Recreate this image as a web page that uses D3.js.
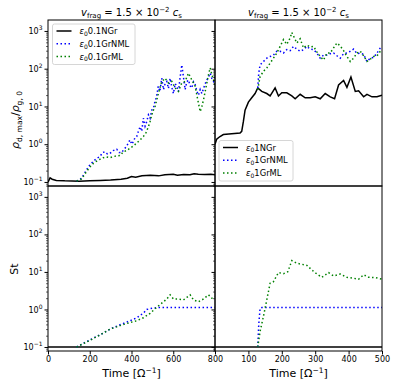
<!DOCTYPE html>
<html>
<head>
<meta charset="utf-8">
<script src="https://cdn.jsdelivr.net/npm/d3@7"></script>
<style>
  body { margin: 0; background: #fff; }
  svg { font-family: "DejaVu Sans", sans-serif; }
</style>
</head>
<body>
<svg width="396" height="387"></svg>
<script>
// time / value pairs
var topLeftNGr = [[0,0.098],[10,0.128],[20,0.118],[40,0.11],[80,0.107],[150,0.105],[200,0.107],[250,0.109],[300,0.112],[350,0.118],[380,0.125],[400,0.14],[420,0.134],[450,0.145],[490,0.15],[530,0.145],[560,0.155],[600,0.16],[620,0.15],[650,0.158],[680,0.155],[700,0.165],[720,0.16],[750,0.158],[780,0.16],[800,0.155]]
var topLeftNML = [[137,0.105],[150,0.115],[161,0.125],[175,0.17],[185,0.21],[200,0.28],[217,0.35],[233,0.42],[249,0.47],[261,0.6],[273,0.63],[285,0.55],[297,0.57],[313,0.68],[329,0.74],[341,0.6],[353,0.6],[365,0.75],[377,0.87],[385,1.1],[393,1.3],[401,1.0],[409,1.17],[417,1.5],[425,1.6],[433,2.2],[441,2.9],[449,2.2],[457,4.9],[465,3.0],[473,4.0],[481,6],[489,4.9],[497,8],[505,9],[513,14],[520,18],[528,34],[536,25],[545,56],[553,28],[561,40],[569,46],[577,30],[585,56],[593,32],[601,22],[609,40],[617,34],[625,25],[633,60],[641,126],[649,60],[657,28],[665,45],[673,50],[681,35],[689,31],[697,45],[705,38],[713,25],[721,20],[729,28],[737,22],[745,30],[753,40],[761,50],[769,60],[777,76],[785,55],[793,46],[800,62]]
var topLeftML = [[137,0.105],[161,0.12],[185,0.19],[201,0.25],[217,0.31],[241,0.38],[265,0.44],[281,0.46],[297,0.44],[313,0.47],[329,0.49],[345,0.5],[361,0.63],[377,0.68],[393,0.78],[409,0.9],[425,1.07],[441,1.3],[457,1.6],[469,2.0],[481,2.9],[489,4],[497,6],[505,8],[513,10],[521,15],[529,22],[537,32],[545,46],[553,50],[561,56],[569,48],[577,42],[585,45],[593,46],[601,38],[609,31],[617,28],[625,25],[633,33],[641,42],[649,44],[657,46],[665,60],[673,76],[681,62],[689,50],[697,42],[705,34],[713,20],[721,12],[729,7.3],[737,10],[745,15],[753,25],[761,42],[769,70],[777,105],[785,70],[793,50],[800,35]]

var topRightNGr = [[0,1.0],[5,1.35],[15,1.6],[25,1.8],[50,1.9],[75,1.97],[80,2.2],[85,4],[90,8],[100,13],[110,17],[120,22],[128,31],[140,25],[155,22],[165,19],[180,31],[190,19],[200,23],[215,23],[230,19],[240,16],[255,21],[270,17],[285,17],[300,18],[315,16],[330,22],[345,18],[358,16],[370,37],[385,49],[395,32],[407,60],[420,25],[430,26],[445,18],[455,21],[470,18],[485,18],[500,20]]
var topRightNML = [[128,31],[131,76],[135,126],[145,155],[155,190],[165,210],[175,230],[185,290],[195,290],[205,260],[215,320],[225,300],[235,390],[245,330],[255,290],[265,320],[275,390],[285,330],[295,320],[305,260],[315,190],[325,230],[335,230],[345,250],[355,260],[365,220],[375,190],[385,250],[395,260],[405,290],[415,330],[425,250],[435,260],[445,240],[455,155],[465,190],[475,200],[485,260],[495,355],[500,390]]
var topRightML = [[128,28],[135,62],[145,85],[155,105],[165,140],[175,190],[185,260],[195,390],[205,590],[215,440],[225,650],[230,910],[238,650],[245,480],[255,620],[265,355],[275,420],[285,380],[295,390],[305,280],[315,210],[325,170],[335,260],[345,260],[355,355],[365,480],[375,400],[385,300],[395,210],[405,155],[415,190],[425,260],[435,290],[445,220],[455,155],[465,180],[475,210],[485,220],[495,290],[500,320]]

var botLeftNGr = [[0,0.1],[800,0.1]]
var botLeftNML = [[137,0.1],[201,0.155],[249,0.21],[297,0.3],[345,0.39],[393,0.5],[425,0.6],[457,0.8],[473,1.0],[489,1.05],[521,1.12],[800,1.12]]
var botLeftML = [[137,0.1],[201,0.15],[249,0.21],[297,0.3],[345,0.37],[393,0.45],[425,0.5],[457,0.6],[489,0.79],[521,1.14],[553,1.6],[569,1.9],[585,2.45],[601,1.9],[625,1.9],[649,1.8],[665,2.1],[681,2.45],[697,1.8],[721,1.6],[745,1.9],[769,2.45],[785,2.0],[800,2.2]]

var botRightNGr = [[0,0.1],[500,0.1]]
var botRightNML = [[128,0.1],[131,0.4],[135,1.07],[140,1.12],[500,1.12]]
var botRightML = [[128,0.1],[135,0.26],[145,0.65],[155,1.8],[165,5],[175,5.5],[190,9.6],[205,9],[218,10.1],[230,20],[245,17],[260,16],[275,15],[290,11.3],[305,8.8],[320,7.2],[340,9.6],[355,7.8],[375,8.8],[395,7.2],[415,6.8],[430,6.4],[445,8.4],[460,7.2],[480,7.1],[500,6.4]]

var leftTicks = [0, 200, 400, 600, 800]
var rightTicks = [100, 200, 300, 400, 500]
var yMajor = [0.1, 1, 10, 100, 1000]
var leftLegend = ["0.1NGr", "0.1GrNML", "0.1GrML"]
var rightLegend = ["1NGr", "1GrNML", "1GrML"]

var svg = d3.select("svg")
var cols = [{x0: 48, x1: 215, max: 800, ticks: leftTicks}, {x0: 215, x1: 382, max: 500, ticks: rightTicks}]
var rows = [{y0: 20, y1: 186}, {y0: 186, y1: 351}]

var styles = [
  {color: "black", dash: null},
  {color: "blue", dash: "1.5,2.5"},
  {color: "green", dash: "1.5,2.5"}
]

var panels = [
  {c: 0, r: 0, series: [topLeftNGr, topLeftNML, topLeftML]},
  {c: 1, r: 0, series: [topRightNGr, topRightNML, topRightML]},
  {c: 0, r: 1, series: [botLeftNGr, botLeftNML, botLeftML]},
  {c: 1, r: 1, series: [botRightNGr, botRightNML, botRightML]}
]

var yDomain = [Math.pow(10, -1.107), Math.pow(10, 3.29)]

var minorTicks = []
for (var k = -2; k <= 3; k++) {
  for (var m = 2; m <= 9; m++) {
    var v = m * Math.pow(10, k)
    if (v > yDomain[0] && v < yDomain[1]) minorTicks.push(v)
  }
}

var supLabel = function(sel, exps) {
  sel.selectAll(".tick text").each(function(d) {
    var t = d3.select(this).text("10")
    t.append("tspan").attr("dy", -4).attr("font-size", "6px").text(exps(d))
  })
}

panels.forEach(function(p, i) {
  var col = cols[p.c], row = rows[p.r]
  var x = d3.scaleLinear().domain([0, col.max]).range([col.x0, col.x1])
  var y = d3.scaleLog().domain(yDomain).range([row.y1, row.y0])

  svg.append("clipPath").attr("id", "clip" + i)
    .append("rect").attr("x", col.x0).attr("y", row.y0)
    .attr("width", col.x1 - col.x0).attr("height", row.y1 - row.y0)

  var g = svg.append("g").attr("clip-path", "url(#clip" + i + ")")
  var line = d3.line().x(function(d) { return x(d[0]) }).y(function(d) { return y(d[1]) })

  p.series.forEach(function(s, j) {
    g.append("path")
      .attr("d", line(s))
      .attr("fill", "none")
      .attr("stroke", styles[j].color)
      .attr("stroke-width", 1.5)
      .attr("stroke-dasharray", styles[j].dash)
  })

  // y axis
  var ya = svg.append("g").attr("transform", "translate(" + col.x0 + ",0)")
    .call(d3.axisLeft(y).tickValues(yMajor).tickSize(3.5).tickPadding(2))
  ya.select(".domain").remove()
  ya.selectAll("text").attr("font-size", "8px").attr("font-family", "DejaVu Sans")
  if (p.c == 0) {
    supLabel(ya, function(d) { return String(Math.round(Math.log10(d))).replace("-", "\u2212") })
  } else {
    ya.selectAll("text").remove()
  }
  var ym = svg.append("g").attr("transform", "translate(" + col.x0 + ",0)")
    .call(d3.axisLeft(y).tickValues(minorTicks).tickSize(2).tickFormat(""))
  ym.select(".domain").remove()
  ym.selectAll("line").attr("stroke-width", 0.6)

  // x axis only on bottom row
  if (p.r == 1) {
    var xa = svg.append("g").attr("transform", "translate(0," + row.y1 + ")")
      .call(d3.axisBottom(x).tickValues(col.ticks).tickSize(3.5).tickPadding(2))
    xa.select(".domain").remove()
    xa.selectAll("text").attr("font-size", "8px").attr("font-family", "DejaVu Sans")

    var xl = svg.append("text")
      .attr("x", (col.x0 + col.x1) / 2).attr("y", 377)
      .attr("text-anchor", "middle").attr("font-size", "11px")
    xl.append("tspan").text("Time [\u03A9")
    xl.append("tspan").attr("dy", -4.5).attr("font-size", "7.5px").text("\u22121")
    xl.append("tspan").attr("dy", 4.5).text("]")
  }

  // frame
  svg.append("rect").attr("x", col.x0).attr("y", row.y0)
    .attr("width", col.x1 - col.x0).attr("height", row.y1 - row.y0)
    .attr("fill", "none").attr("stroke", "black").attr("stroke-width", 1)
})

// titles
cols.forEach(function(col) {
  var t = svg.append("text").attr("x", (col.x0 + col.x1) / 2).attr("y", 16)
    .attr("text-anchor", "middle").attr("font-size", "10px")
  t.append("tspan").attr("font-style", "italic").text("v")
  t.append("tspan").attr("dy", 2).attr("font-size", "7px").text("frag")
  t.append("tspan").attr("dy", -2).text(" = 1.5 \u00D7 10")
  t.append("tspan").attr("dy", -4).attr("font-size", "7px").text("\u22122")
  t.append("tspan").attr("dy", 4).text(" ")
  t.append("tspan").attr("font-style", "italic").text("c")
  t.append("tspan").attr("dy", 2).attr("font-size", "7px").text("s")
})

// y labels
var yl = svg.append("text").attr("transform", "translate(19,120) rotate(-90)")
  .attr("text-anchor", "middle").attr("font-size", "11px")
yl.append("tspan").attr("font-style", "italic").text("\u03C1")
yl.append("tspan").attr("dy", 2.5).attr("font-size", "7.5px").text("d, max")
yl.append("tspan").attr("dy", -2.5).text("/")
yl.append("tspan").attr("font-style", "italic").text("\u03C1")
yl.append("tspan").attr("dy", 2.5).attr("font-size", "7.5px").text("g, 0")

svg.append("text").attr("transform", "translate(18,269) rotate(-90)")
  .attr("text-anchor", "middle").attr("font-size", "11px").text("St")

// legends
var drawLegend = function(bx, by, bw, labels) {
  var lg = svg.append("g").attr("transform", "translate(" + bx + "," + by + ")")
  lg.append("rect").attr("width", bw).attr("height", 40.5).attr("rx", 2)
    .attr("fill", "white").attr("fill-opacity", 0.8)
    .attr("stroke", "#cccccc").attr("stroke-width", 0.8)
  labels.forEach(function(lab, j) {
    var yy = 7 + j * 12.8
    lg.append("line").attr("x1", 4).attr("x2", 19).attr("y1", yy).attr("y2", yy)
      .attr("stroke", styles[j].color).attr("stroke-width", 1.5)
      .attr("stroke-dasharray", styles[j].dash)
    var t = lg.append("text").attr("x", 27).attr("y", yy + 3).attr("font-size", "8.4px")
    t.append("tspan").attr("font-style", "italic").text("\u03B5")
    t.append("tspan").attr("dy", 1.8).attr("font-size", "6px").text("0")
    t.append("tspan").attr("dy", -1.8).text(lab)
  })
}
drawLegend(52.5, 24, 82.5, leftLegend)
drawLegend(219, 140.5, 74, rightLegend)
</script>
</body>
</html>
